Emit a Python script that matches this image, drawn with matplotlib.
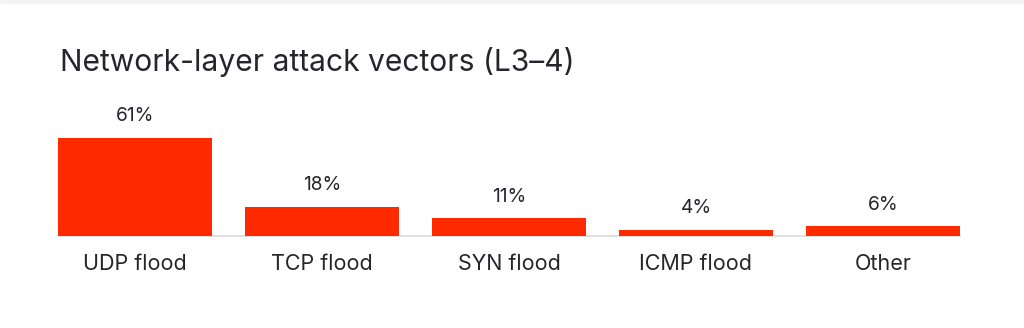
import matplotlib.pyplot as plt
from matplotlib.patches import Rectangle

categories = ['UDP flood', 'TCP flood', 'SYN flood', 'ICMP flood', 'Other']
shares = [61, 18, 11, 4, 6]

BAR_RED = '#ff2a00'
TEXT = '#27242c'


def main():
    plt.rcParams['font.family'] = ['Inter', 'DejaVu Sans']
    W, H = 1024, 328
    fig = plt.figure(figsize=(W / 100, H / 100), dpi=100)

    # thin grey strip at the very top
    fig.patches.append(Rectangle((0, 1 - 3 / H), 1, 3 / H, transform=fig.transFigure,
                                 color='#f4f4f4', zorder=0))

    # axes placed in pixel terms: left 58, right 960, baseline at y=236
    ax = fig.add_axes([58 / W, 92 / H, 902 / W, 113 / H])
    x = range(len(categories))
    bars = ax.bar(x, shares, width=0.824, color=BAR_RED, zorder=3)
    ax.set_xlim(-0.412, len(categories) - 1 + 0.412)
    ax.set_ylim(0, 70)

    ax.bar_label(bars, labels=[f'{v}%' for v in shares], padding=9,
                 fontsize=13.8, color=TEXT)

    for s in ['top', 'right', 'left']:
        ax.spines[s].set_visible(False)
    ax.spines['bottom'].set_color('#d9d9d9')
    ax.spines['bottom'].set_linewidth(1.2)
    ax.set_yticks([])
    ax.set_xticks(list(x))
    ax.set_xticklabels(categories, fontsize=15.5, color=TEXT)
    ax.tick_params(axis='x', length=0, pad=13)

    fig.text(60 / W, 1 - 62 / H, 'Network-layer attack vectors (L3–4)',
             fontsize=21.6, color=TEXT, ha='left', va='center')

    fig.savefig('out.png', dpi=100, facecolor='white')


if __name__ == '__main__':
    main()
